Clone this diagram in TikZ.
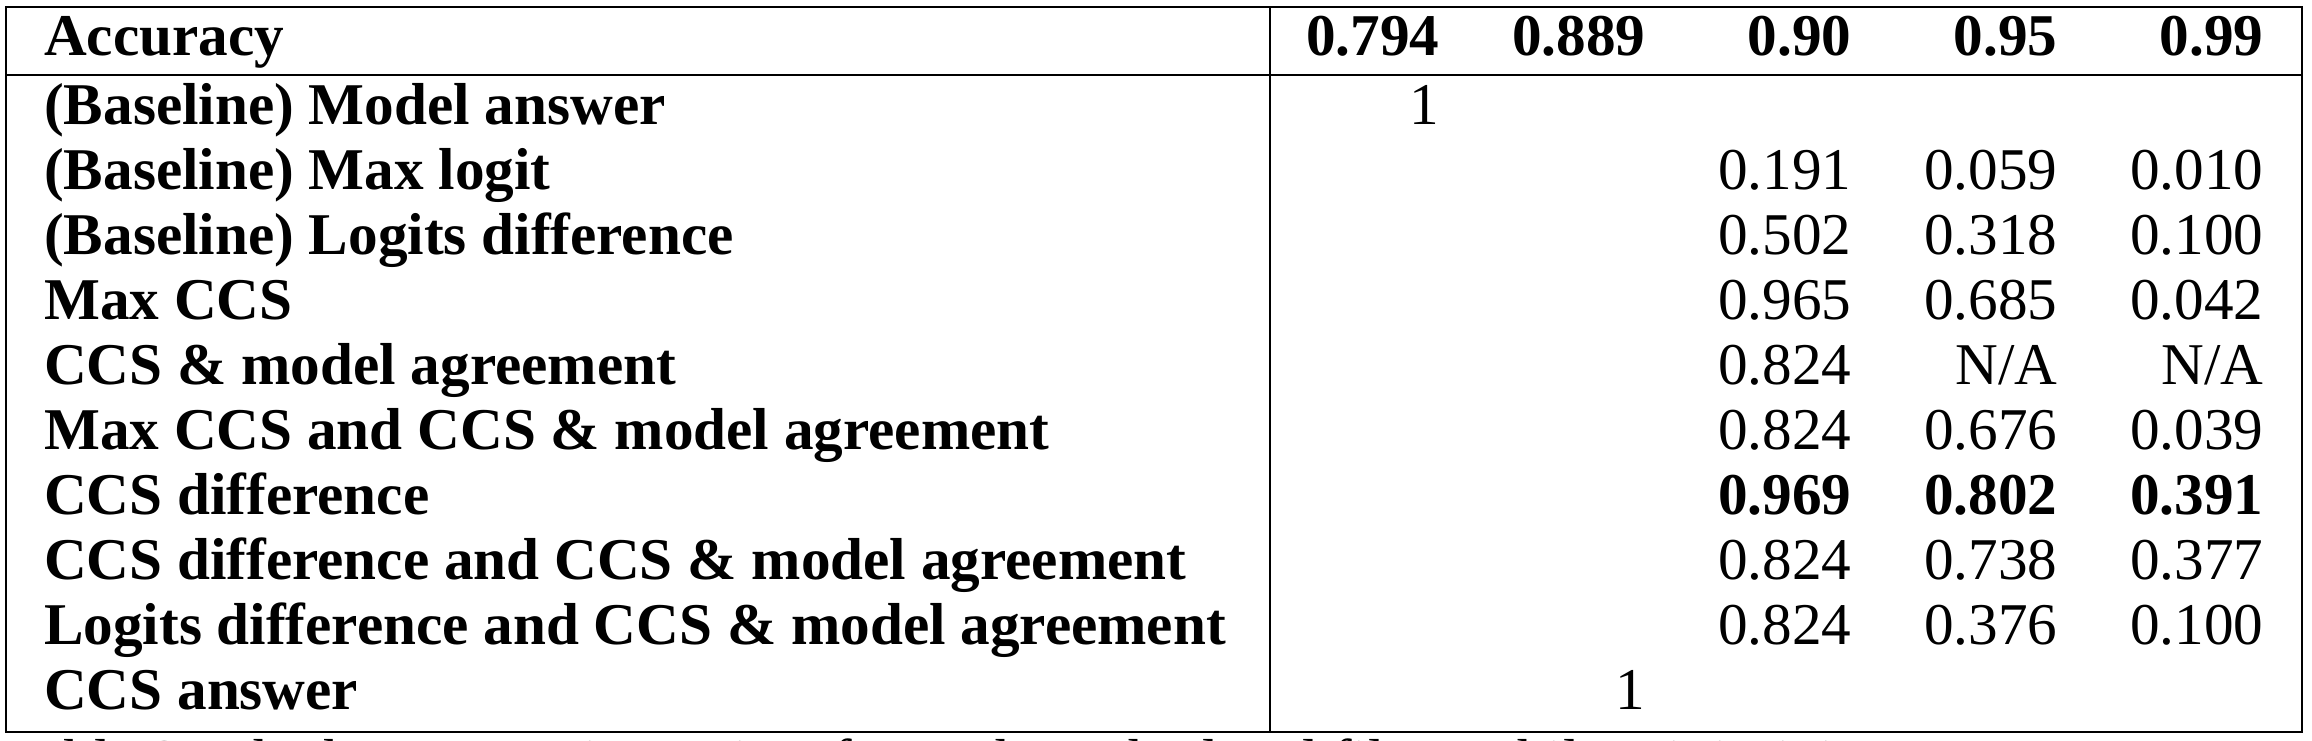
\documentclass[tikz,border=0pt]{standalone}
\usepackage{fontspec}
\setmainfont{Liberation Serif}
\newcommand\tsz{\fontsize{59.2}{65}\selectfont}
\begin{document}
\begin{tikzpicture}[x=1pt,y=-1pt,
  lab/.style={anchor=base west, inner sep=0pt, font=\tsz\bfseries},
  num/.style={anchor=base east, inner sep=0pt, font=\tsz},
  bnum/.style={anchor=base east, inner sep=0pt, font=\tsz\bfseries},
  captext/.style={anchor=base west, inner sep=0pt, font=\tsz},
  rule/.style={line width=2.2pt, black},
  outer/.style={line width=2.6pt, black}]
\clip (0,0) rectangle (2312,740);
\fill[white] (0,0) rectangle (2312,740);
% frame coordinates
\coordinate (tl) at (6,7);
\coordinate (tr) at (2302,7);
\coordinate (bl) at (6,732);
\coordinate (br) at (2302,732);
\coordinate (hl) at (6,75);
\coordinate (hr) at (2302,75);
\coordinate (vt) at (1270,7);
\coordinate (vb) at (1270,732);
\draw[outer] (tl) -- (tr) -- (br) -- (bl) -- cycle;
\draw[rule] (hl) -- (hr);
\draw[rule] (vt) -- (vb);
% header
\node[lab] (h0) at (44,55) {Accuracy};
\node[bnum] (h1) at (1439.5,55) {0.794};
\node[bnum] (h2) at (1645.5,55) {0.889};
\node[bnum] (h3) at (1851.5,55) {0.90};
\node[bnum] (h4) at (2057.5,55) {0.95};
\node[bnum] (h5) at (2263.5,55) {0.99};
% rows
\node[lab] (l1) at (44,124) {(Baseline) Model answer};
\node[num] (a1) at (1439.5,124) {1};
\node[lab] (l2) at (44,189.1) {(Baseline) Max logit};
\node[num] (c2) at (1851.5,189.1) {0.191};
\node[num] (d2) at (2057.5,189.1) {0.059};
\node[num] (e2) at (2263.5,189.1) {0.010};
\node[lab] (l3) at (44,254.2) {(Baseline) Logits difference};
\node[num] (c3) at (1851.5,254.2) {0.502};
\node[num] (d3) at (2057.5,254.2) {0.318};
\node[num] (e3) at (2263.5,254.2) {0.100};
\node[lab] (l4) at (44,319.3) {Max CCS};
\node[num] (c4) at (1851.5,319.3) {0.965};
\node[num] (d4) at (2057.5,319.3) {0.685};
\node[num] (e4) at (2263.5,319.3) {0.042};
\node[lab] (l5) at (44,384.4) {CCS \& model agreement};
\node[num] (c5) at (1851.5,384.4) {0.824};
\node[num] (d5) at (2057.5,384.4) {N/A};
\node[num] (e5) at (2263.5,384.4) {N/A};
\node[lab] (l6) at (44,449.5) {Max CCS and CCS \& model agreement};
\node[num] (c6) at (1851.5,449.5) {0.824};
\node[num] (d6) at (2057.5,449.5) {0.676};
\node[num] (e6) at (2263.5,449.5) {0.039};
\node[lab] (l7) at (44,514.6) {CCS difference};
\node[bnum] (c7) at (1851.5,514.6) {0.969};
\node[bnum] (d7) at (2057.5,514.6) {0.802};
\node[bnum] (e7) at (2263.5,514.6) {0.391};
\node[lab] (l8) at (44,579.7) {CCS difference and CCS \& model agreement};
\node[num] (c8) at (1851.5,579.7) {0.824};
\node[num] (d8) at (2057.5,579.7) {0.738};
\node[num] (e8) at (2263.5,579.7) {0.377};
\node[lab] (l9) at (44,644.8) {Logits difference and CCS \& model agreement};
\node[num] (c9) at (1851.5,644.8) {0.824};
\node[num] (d9) at (2057.5,644.8) {0.376};
\node[num] (e9) at (2263.5,644.8) {0.100};
\node[lab] (l10) at (44,709.9) {CCS answer};
\node[num] (b10) at (1645.5,709.9) {1};
% cut-off caption
\node[captext] (cap) at (6,780) {Table 3: The best operating points for each method and filter, while minimizing};
\end{tikzpicture}
\end{document}
